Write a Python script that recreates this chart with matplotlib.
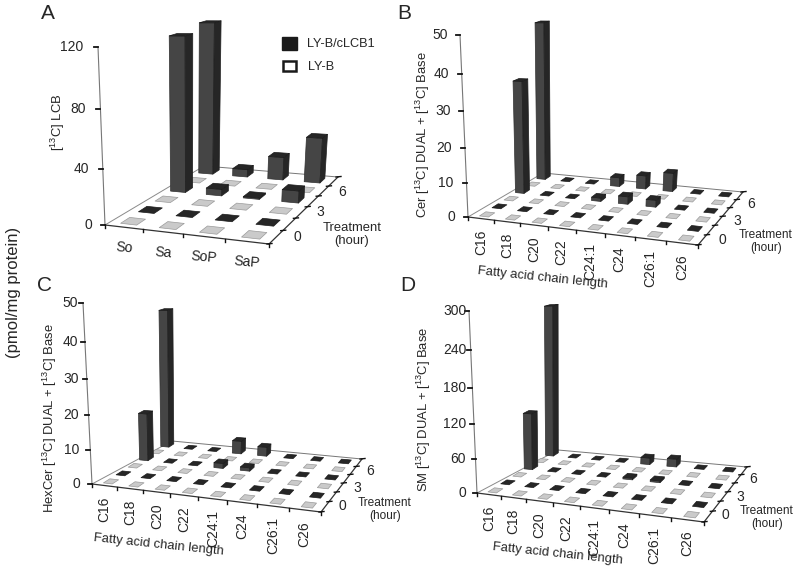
import numpy as np
import matplotlib
matplotlib.use("Agg")
import matplotlib.pyplot as plt
from matplotlib.patches import Polygon, Rectangle

plt.rcParams['font.family'] = ['Liberation Sans', 'DejaVu Sans']
plt.rcParams['mathtext.fontset'] = 'custom'
plt.rcParams['mathtext.rm'] = 'Liberation Sans'
plt.rcParams['mathtext.default'] = 'regular'

# ---------- data ----------
lcb_labels = ["So", "Sa", "SoP", "SaP"]
fa_labels = ["C16", "C18", "C20", "C22", "C24:1", "C24", "C26:1", "C26"]
hours = [0, 3, 6]

a_ticks = [0, 40, 80, 120]
a_cl_0 = [0, 0, 0, 0]
a_cl_3 = [116, 5, 1, 9]
a_cl_6 = [119, 6, 18, 35]
a_ly_0 = [0, 0, 0, 0]
a_ly_3 = [0, 0, 0, 0]
a_ly_6 = [0, 0, 0, 0]

b_ticks = [0, 10, 20, 30, 40, 50]
b_cl_0 = [0, 0, 0, 0, 0, 0, 0, 0]
b_cl_3 = [33.5, 0, 0, 1, 2.2, 2, 0, 0]
b_cl_6 = [47.7, 0, 0, 2.7, 4, 5.5, 0, 0]
b_ly = [0, 0, 0, 0, 0, 0, 0, 0]

c_ticks = [0, 10, 20, 30, 40, 50]
c_cl_0 = [0, 0, 0, 0, 0, 0, 0, 0]
c_cl_3 = [14.7, 0, 0, 1.5, 1, 0, 0, 0]
c_cl_6 = [43, 0, 0, 4, 2.8, 0, 0, 0]
c_ly = [0, 0, 0, 0, 0, 0, 0, 0]

d_ticks = [0, 60, 120, 180, 240, 300]
d_cl_0 = [0, 0, 0, 0, 0, 0, 0, 0]
d_cl_3 = [104, 0, 0, 0, 3, 3, 0, 0]
d_cl_6 = [279, 0, 0, 0, 12, 14, 0, 0]
d_ly = [0, 0, 0, 0, 0, 0, 0, 0]

# ---------- drawing helpers ----------
fig = plt.figure(figsize=(8, 5.69), dpi=100, facecolor='white')
ax = fig.add_axes([0, 0, 1, 1])
ax.set_xlim(0, 800)
ax.set_ylim(569, 0)
ax.axis('off')

DARK = '#333333'
TXT = '#262626'


def homography(src, dst):
    A, b = [], []
    for (u, v), (X, Y) in zip(src, dst):
        A.append([u, v, 1, 0, 0, 0, -u * X, -v * X]); b.append(X)
        A.append([0, 0, 0, u, v, 1, -u * Y, -v * Y]); b.append(Y)
    return np.append(np.linalg.solve(np.array(A, float), np.array(b, float)), 1).reshape(3, 3)


class Oblique:
    """Perspective map from (category, row, value) to figure pixels."""

    def __init__(self, origin, xend, backright, backleft, ztop, zmax, yv=2400.0):
        self.H = homography([(0, 0), (1, 0), (1, 1), (0, 1)], [origin, xend, backright, backleft])
        ox, oy = origin
        s = (ztop[1] - oy) / (yv - ztop[1])
        xv = (ztop[0] * (1 + s) - ox) / s
        self.c = np.array([xv, yv, 1.0]) * s / zmax

    def __call__(self, u, v, z=0.0):
        p = self.H @ np.array([u, v, 1.0]) + z * self.c
        return p[0] / p[2], p[1] / p[2]


def face(P, pts, fc, ec, z):
    ax.add_patch(Polygon([P(*q) for q in pts], closed=True, fc=fc, ec=ec, lw=0.5, zorder=z, joinstyle='round'))


def box(P, u0, u1, v0, v1, h, z, top, edge, front='#454545', side='#262626'):
    if h > 0:
        face(P, [(u0, v0, 0), (u1, v0, 0), (u1, v0, h), (u0, v0, h)], front, '#303030', z)
        face(P, [(u1, v0, 0), (u1, v1, 0), (u1, v1, h), (u1, v0, h)], side, '#202020', z)
    face(P, [(u0, v0, h), (u1, v0, h), (u1, v1, h), (u0, v1, h)], top, edge, z + 0.1)


def panel(letter, letter_xy, ylabel, ylabel_xy, cats, ticks, ly_rows, cl_rows, geom, edge_corner,
          bw, tick_right, tick_fs, depth_xy, treat_xy, treat_fs, cat_kw, xlabel_xy=None, xlabel_fs=9.4):
    P = Oblique(*geom, zmax=ticks[-1])
    n = len(cats)
    nrow = 2 * len(hours)
    ax.plot(*zip(P(0, 0), edge_corner), color='#8a8a8a', lw=0.7, zorder=1.5)
    ax.plot(*zip(edge_corner, P(1, 1)), color='#777777', lw=0.7, zorder=1.5)
    ax.plot(*zip(P(0, 0), P(1, 0)), color=DARK, lw=0.9, zorder=1.5)
    ax.plot(*zip(P(1, 0), P(1, 1)), color=DARK, lw=0.9, zorder=1.5)
    ax.plot(*zip(P(0, 0), P(0, 0, ticks[-1])), color='#777777', lw=0.8, zorder=1.5)
    # value axis
    for t in ticks:
        x, y = P(0, 0, t)
        ax.plot([x - 4, x], [y, y], color='#111111', lw=1.3, zorder=1.6)
        right = tick_right[0] + (tick_right[1] - tick_right[0]) * t / ticks[-1]
        ax.text(right, y, str(t), ha='right', va='center', fontsize=tick_fs, color=TXT)
    # category ticks and labels
    for i in range(0, n + 1):
        x, y = P(i / n, 0)
        ax.plot([x, x], [y, y + 3], color='#111111', lw=1.0, zorder=1.6)
    for i, c in enumerate(cats):
        x, y = P((i + .5) / n, 0)
        ax.text(x, y + cat_kw['dy'], c, rotation=cat_kw['rot'], ha='center', va=cat_kw['va'],
                fontsize=tick_fs, color=TXT)
    # depth ticks and labels
    for j in range(0, nrow + 1):
        x, y = P(1, j / nrow)
        ax.plot([x - 2, x + 3], [y, y - 0.5], color='#111111', lw=1.0, zorder=1.6)
    for h, (x, y) in zip(hours, depth_xy):
        ax.text(x, y, str(h), ha='center', va='center', fontsize=tick_fs, color=TXT)
    ax.text(treat_xy[0], treat_xy[1], "Treatment", ha='center', va='center', fontsize=treat_fs, color=TXT)
    ax.text(treat_xy[0], treat_xy[1] + 13, "(hour)", ha='center', va='center', fontsize=treat_fs, color=TXT)
    # bars: far rows first
    for j in range(len(hours) - 1, -1, -1):
        for row, top, edge, vslot in ((cl_rows[j], '#262626', '#1a1a1a', 2 * j + 1),
                                      (ly_rows[j], '#cacaca', '#9a9a9a', 2 * j)):
            for i, val in enumerate(row):
                uc = (i + .5) / n
                vc = (vslot + .5) / nrow
                du = bw / n / 2
                dv = 0.5 / nrow / 2
                box(P, uc - du, uc + du, vc - dv, vc + dv, val, 3 + (nrow - vslot) + i * 0.01, top, edge)
    ax.text(*letter_xy, letter, fontsize=15, ha='center', va='center', color=TXT)
    ax.text(*ylabel_xy, ylabel, rotation=90, ha='center', va='center', fontsize=9.4, color=TXT)
    if xlabel_xy:
        ax.text(*xlabel_xy, "Fatty acid chain length", rotation=-6, ha='center', va='center',
                fontsize=xlabel_fs, color=TXT, rotation_mode='anchor')


panel("A", (48, 13), r"[$^{13}$C] LCB", (58, 122), lcb_labels, a_ticks,
      [a_ly_0, a_ly_3, a_ly_6], [a_cl_0, a_cl_3, a_cl_6],
      ((105, 225), (269, 244), (338, 177), (199, 166), (98, 47)), (204, 166),
      0.42, (92, 83), 10, [(297, 237), (320, 212), (342, 192)], (352, 228), 9.4,
      dict(dy=21, rot=-5, va='center'))

panel("B", (404, 13), r"Cer [$^{13}$C] DUAL + [$^{13}$C] Base", (423, 135), fa_labels, b_ticks,
      [b_ly, b_ly, b_ly], [b_cl_0, b_cl_3, b_cl_6],
      ((468, 217), (698, 245), (743, 192), (537, 173), (460, 35)), (543, 173),
      0.35, (455, 448), 10, [(722, 240), (737, 221), (751, 204)], (766, 235), 8.6,
      dict(dy=11, rot=90, va='top'), (543, 278))

panel("C", (44, 285), r"HexCer [$^{13}$C] DUAL + [$^{13}$C] Base", (50, 418), fa_labels, c_ticks,
      [c_ly, c_ly, c_ly], [c_cl_0, c_cl_3, c_cl_6],
      ((92, 484), (321, 512), (362, 459), (161, 441), (83, 303)), (172, 441),
      0.35, (80, 78), 10, [(342, 506), (357, 488), (370, 471)], (385, 503), 8.6,
      dict(dy=11, rot=90, va='top'), (159, 545))

panel("D", (408, 285), r"SM [$^{13}$C] DUAL + [$^{13}$C] Base", (424, 409), fa_labels, d_ticks,
      [d_ly, d_ly, d_ly], [d_cl_0, d_cl_3, d_cl_6],
      ((477, 493), (704, 522), (747, 467), (546, 450), (469, 311)), (558, 450),
      0.35, (466, 467), 10, [(725, 515), (740, 497), (753, 479)], (767, 511), 8.6,
      dict(dy=11, rot=90, va='top'), (558, 554))

# legend
ax.add_patch(Rectangle((282, 37), 15, 13, fc='#1a1a1a', ec='#1a1a1a', lw=1, zorder=5))
ax.text(307, 44, "LY-B/cLCB1", fontsize=9.2, va='center', ha='left', color=TXT)
ax.add_patch(Rectangle((283, 61), 13, 10, fc='white', ec='#1a1a1a', lw=1.8, zorder=5))
ax.text(308, 67, "LY-B", fontsize=9.2, va='center', ha='left', color=TXT)

ax.text(14, 292, "(pmol/mg protein)", rotation=90, fontsize=12, ha='center', va='center', color=TXT)

fig.savefig("out.png", dpi=100, facecolor='white')
